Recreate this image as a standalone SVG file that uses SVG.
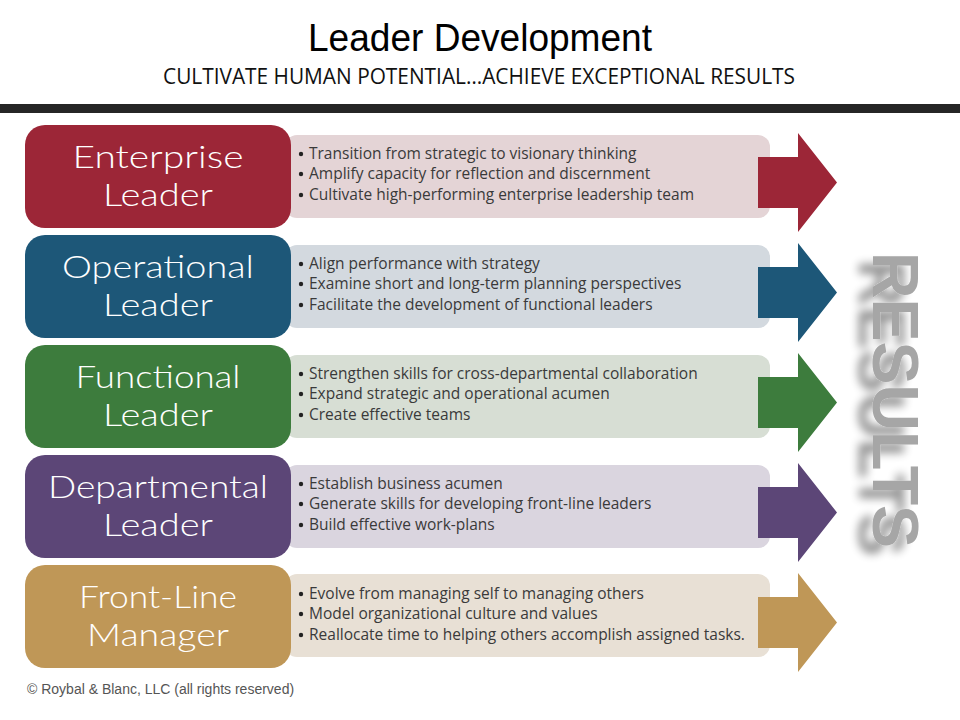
<svg xmlns="http://www.w3.org/2000/svg" width="960" height="720" viewBox="0 0 960 720">
<style>
.title{font-family:"Liberation Sans Narrow","Liberation Sans",Arial,sans-serif;font-size:38px;fill:#000}
.sub{font-family:"Liberation Sans Narrow","Open Sans",sans-serif;font-size:21px;fill:#111}
.lvl{font-family:Lato,"Open Sans",sans-serif;font-weight:300;font-size:32px;fill:#fff;text-anchor:middle}
.bul{font-family:"Open Sans",Lato,sans-serif;font-size:15.5px;fill:#3a3a3a}
.dot{fill:#222}
.res{font-family:"Liberation Sans",Arial,sans-serif;font-weight:bold;font-size:64px;fill:#a6a6a6}
.foot{font-family:"Liberation Sans",Arial,sans-serif;font-size:14px;fill:#555}
</style>
<defs>
<filter id="shadow" x="-50%" y="-10%" width="200%" height="120%">
<feGaussianBlur in="SourceAlpha" stdDeviation="5"/>
<feOffset dx="-14" dy="8" result="b"/>
<feComponentTransfer><feFuncA type="linear" slope="0.45"/></feComponentTransfer>
<feMerge><feMergeNode/><feMergeNode in="SourceGraphic"/></feMerge>
</filter>
<path id="arrow" d="M758,-25.5 H798 V-49.5 L837,0 L798,49.5 V25.5 H758 Z"/>
<g id="dots" class="dot">
<circle cx="301" cy="-5" r="2.2"/>
<circle cx="301" cy="15" r="2.2"/>
<circle cx="301" cy="36" r="2.2"/>
</g>
</defs>
<rect width="960" height="720" fill="#fff"/>
<text class="title" x="480" y="51" text-anchor="middle" textLength="344" lengthAdjust="spacingAndGlyphs">Leader Development</text>
<text class="sub" x="479" y="84" text-anchor="middle" textLength="632" lengthAdjust="spacingAndGlyphs">CULTIVATE HUMAN POTENTIAL…ACHIEVE EXCEPTIONAL RESULTS</text>
<rect x="0" y="104" width="960" height="9" fill="#262626"/>

<g id="enterprise">
<rect x="285" y="135" width="485" height="83" rx="12" fill="#e4d4d6"/>
<use href="#arrow" transform="translate(0,182.5)" fill="#9c2637"/>
<rect x="25" y="125" width="266" height="103" rx="20" fill="#9c2637"/>
<text class="lvl" x="158" y="168" textLength="171" lengthAdjust="spacingAndGlyphs">Enterprise</text>
<text class="lvl" x="158" y="206" textLength="110" lengthAdjust="spacingAndGlyphs">Leader</text>
<use href="#dots" transform="translate(0,159)"/>
<text class="bul" x="309" y="159">Transition from strategic to visionary thinking</text>
<text class="bul" x="309" y="179">Amplify capacity for reflection and discernment</text>
<text class="bul" x="309" y="200">Cultivate high-performing enterprise leadership team</text>
</g>

<g id="operational">
<rect x="285" y="245" width="485" height="83" rx="12" fill="#d3d9df"/>
<use href="#arrow" transform="translate(0,292.5)" fill="#1d5778"/>
<rect x="25" y="235" width="266" height="103" rx="20" fill="#1d5778"/>
<text class="lvl" x="158" y="278" textLength="192" lengthAdjust="spacingAndGlyphs">Operational</text>
<text class="lvl" x="158" y="316" textLength="110" lengthAdjust="spacingAndGlyphs">Leader</text>
<use href="#dots" transform="translate(0,269)"/>
<text class="bul" x="309" y="269">Align performance with strategy</text>
<text class="bul" x="309" y="289">Examine short and long-term planning perspectives</text>
<text class="bul" x="309" y="310">Facilitate the development of functional leaders</text>
</g>

<g id="functional">
<rect x="285" y="355" width="485" height="83" rx="12" fill="#d7ded4"/>
<use href="#arrow" transform="translate(0,402.5)" fill="#3d7c3d"/>
<rect x="25" y="345" width="266" height="103" rx="20" fill="#3d7c3d"/>
<text class="lvl" x="158" y="388" textLength="165" lengthAdjust="spacingAndGlyphs">Functional</text>
<text class="lvl" x="158" y="426" textLength="110" lengthAdjust="spacingAndGlyphs">Leader</text>
<use href="#dots" transform="translate(0,379)"/>
<text class="bul" x="309" y="379">Strengthen skills for cross-departmental collaboration</text>
<text class="bul" x="309" y="399">Expand strategic and operational acumen</text>
<text class="bul" x="309" y="420">Create effective teams</text>
</g>

<g id="departmental">
<rect x="285" y="465" width="485" height="83" rx="12" fill="#dad5df"/>
<use href="#arrow" transform="translate(0,512.5)" fill="#5c4677"/>
<rect x="25" y="455" width="266" height="103" rx="20" fill="#5c4677"/>
<text class="lvl" x="158" y="498" textLength="220" lengthAdjust="spacingAndGlyphs">Departmental</text>
<text class="lvl" x="158" y="536" textLength="110" lengthAdjust="spacingAndGlyphs">Leader</text>
<use href="#dots" transform="translate(0,489)"/>
<text class="bul" x="309" y="489">Establish business acumen</text>
<text class="bul" x="309" y="509">Generate skills for developing front-line leaders</text>
<text class="bul" x="309" y="530">Build effective work-plans</text>
</g>

<g id="frontline">
<rect x="285" y="574" width="485" height="83" rx="12" fill="#e8e0d5"/>
<use href="#arrow" transform="translate(0,622.5)" fill="#bf9757"/>
<rect x="25" y="565" width="266" height="103" rx="20" fill="#bf9757"/>
<text class="lvl" x="158" y="608" textLength="158" lengthAdjust="spacingAndGlyphs">Front-Line</text>
<text class="lvl" x="158" y="646" textLength="142" lengthAdjust="spacingAndGlyphs">Manager</text>
<use href="#dots" transform="translate(0,599)"/>
<text class="bul" x="309" y="599">Evolve from managing self to managing others</text>
<text class="bul" x="309" y="619">Model organizational culture and values</text>
<text class="bul" x="309" y="640">Reallocate time to helping others accomplish assigned tasks.</text>
</g>

<g id="results" filter="url(#shadow)">
<text class="res" transform="translate(873,252) rotate(90)" x="0" y="0" textLength="296" lengthAdjust="spacingAndGlyphs">RESULTS</text>
</g>

<g id="connectors"></g>

<text class="foot" x="27" y="694">© Roybal &amp; Blanc, LLC (all rights reserved)</text>
</svg>
